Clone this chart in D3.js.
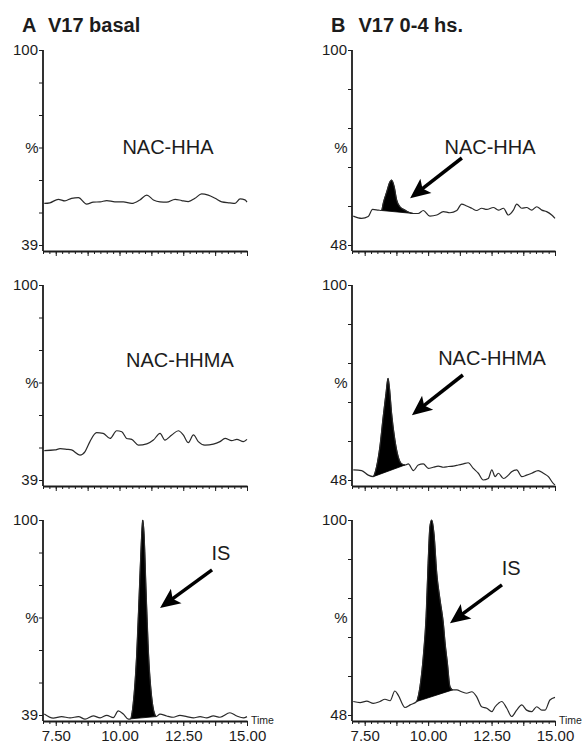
<!DOCTYPE html>
<html>
<head>
<meta charset="utf-8">
<title>V17 chromatograms</title>
<script src="https://d3js.org/d3.v7.min.js"></script>
<style>
  body { margin: 0; background: #fff; }
  svg { display: block; font-family: "Liberation Sans", Arial, sans-serif; }
</style>
</head>
<body>
<div id="chart"></div>
<script>
// retention time axis (min)
const timeDomain = [7.0, 15.0];
const timeLabels = [7.5, 10, 12.5, 15];

// columns: A = basal, B = 0-4 hs.
const columnLetters = ["A", "B"];
const columnTitles = ["V17 basal", "V17 0-4 hs."];
const yMins = [39, 48];
const yTickSteps = [6, 5];
const rowLabels = ["NAC-HHA", "NAC-HHMA", "IS"];

// A, NAC-HHA
const aHhaT = [7.05, 7.27, 7.60, 7.86, 8.12, 8.39, 8.71, 8.97, 9.24, 9.50, 9.82, 10.15, 10.48, 10.80, 11.07, 11.33, 11.59, 11.85, 12.18, 12.44, 12.70, 12.96, 13.22, 13.48, 13.75, 14.01, 14.33, 14.53, 14.73, 14.92, 15.0];
const aHhaV = [52.0, 52.2, 53.3, 52.8, 53.6, 53.8, 51.8, 52.4, 52.5, 52.9, 52.5, 52.5, 52.0, 53.1, 54.6, 53.1, 52.5, 52.4, 53.3, 52.9, 52.6, 53.6, 55.0, 54.6, 53.6, 52.5, 52.2, 52.0, 53.4, 53.1, 52.4];

// A, NAC-HHMA
const aHhmaT = [7.05, 7.47, 7.67, 7.93, 8.12, 8.45, 8.65, 8.84, 9.10, 9.36, 9.63, 9.89, 10.09, 10.28, 10.48, 10.74, 11.07, 11.33, 11.59, 11.78, 12.05, 12.31, 12.50, 12.70, 12.90, 13.09, 13.35, 13.68, 13.94, 14.14, 14.40, 14.60, 14.86, 15.0];
const aHhmaV = [48.2, 48.4, 48.8, 48.6, 48.4, 46.8, 47.9, 51.0, 53.8, 53.6, 52.0, 54.4, 54.1, 52.0, 51.7, 49.9, 50.3, 51.5, 53.6, 51.5, 53.1, 54.4, 53.1, 50.7, 53.1, 51.0, 49.9, 50.2, 51.0, 52.0, 51.3, 51.7, 51.0, 51.7];

// A, IS
const aIsT = [7.05, 7.40, 7.73, 8.06, 8.39, 8.65, 8.97, 9.24, 9.50, 9.76, 9.95, 10.15, 10.35, 10.44, 10.54, 10.67, 10.78, 10.86, 10.91, 10.96, 11.04, 11.13, 11.26, 11.43, 11.59, 11.85, 12.11, 12.37, 12.64, 12.90, 13.16, 13.42, 13.68, 13.94, 14.33, 14.60, 14.86, 15.0];
const aIsV = [39.3, 38.0, 38.5, 38.1, 38.5, 37.7, 38.7, 38.1, 38.9, 38.2, 40.3, 39.3, 37.7, 37.8, 42.7, 57.2, 78.1, 93.7, 100, 95.9, 78.1, 59.3, 44.7, 38.5, 39.3, 38.7, 38.3, 38.9, 38.5, 38.1, 38.5, 38.1, 38.7, 38.3, 39.7, 38.7, 38.1, 38.5];

// B, NAC-HHA
const bHhaT = [7.05, 7.38, 7.64, 7.81, 8.04, 8.17, 8.23, 8.37, 8.50, 8.56, 8.66, 8.76, 8.89, 9.09, 9.29, 9.42, 9.61, 9.81, 10.07, 10.34, 10.60, 10.86, 11.13, 11.32, 11.52, 11.72, 11.91, 12.11, 12.31, 12.57, 12.77, 12.97, 13.16, 13.36, 13.49, 13.69, 13.88, 14.08, 14.28, 14.48, 14.67, 14.87, 15.0];
const bHhaV = [55.7, 55.1, 55.6, 57.5, 57.3, 57.2, 59.1, 62.2, 64.9, 65.3, 63.6, 60.0, 58.2, 57.3, 56.6, 56.4, 56.4, 57.2, 55.7, 56.0, 56.9, 56.6, 57.2, 58.9, 58.4, 57.8, 57.2, 57.8, 57.5, 58.0, 57.3, 57.8, 56.0, 57.3, 58.9, 57.8, 58.0, 57.3, 58.2, 57.3, 56.9, 56.0, 55.1];

// B, NAC-HHMA
const bHhmaT = [7.05, 7.38, 7.64, 7.84, 7.97, 8.10, 8.23, 8.34, 8.42, 8.47, 8.56, 8.69, 8.82, 8.96, 9.09, 9.22, 9.42, 9.61, 9.81, 10.01, 10.20, 10.40, 10.60, 10.80, 10.99, 11.19, 11.39, 11.58, 11.78, 11.98, 12.17, 12.37, 12.51, 12.64, 12.77, 12.97, 13.16, 13.29, 13.49, 13.69, 13.88, 14.08, 14.34, 14.54, 14.74, 14.93, 15.0];
const bHhmaV = [50.7, 50.5, 49.3, 48.9, 51.6, 56.9, 64.9, 71.1, 75.1, 72.9, 65.8, 58.7, 54.2, 52.3, 52.0, 52.3, 50.5, 52.0, 52.3, 51.1, 51.4, 51.7, 51.4, 51.6, 51.7, 52.0, 52.3, 52.6, 51.1, 49.8, 48.0, 48.4, 50.7, 48.9, 49.8, 48.4, 49.3, 50.2, 50.7, 48.9, 49.3, 49.8, 50.5, 49.8, 48.9, 47.1, 46.7];

// B, IS
const bIsT = [7.05, 7.32, 7.58, 7.84, 8.10, 8.30, 8.50, 8.69, 8.82, 9.09, 9.29, 9.55, 9.68, 9.81, 9.92, 10.01, 10.07, 10.14, 10.23, 10.34, 10.47, 10.60, 10.67, 10.76, 10.86, 10.97, 11.13, 11.32, 11.52, 11.72, 11.91, 12.11, 12.31, 12.51, 12.64, 12.77, 12.90, 13.10, 13.29, 13.49, 13.69, 13.88, 14.08, 14.28, 14.48, 14.61, 14.80, 15.0];
const bIsV = [51.6, 51.3, 51.7, 51.1, 51.6, 52.2, 51.8, 54.4, 53.3, 50.0, 50.7, 51.6, 55.6, 63.6, 74.2, 90.2, 98.2, 100, 96.4, 85.8, 78.7, 72.4, 67.1, 61.8, 55.6, 54.7, 54.7, 54.2, 53.8, 54.2, 52.9, 50.2, 49.8, 48.9, 50.2, 51.1, 51.6, 49.8, 47.6, 49.3, 50.7, 49.3, 48.9, 50.2, 49.3, 49.3, 52.0, 52.7];

// integrated (filled) peaks: [start, end] time, null = none
const peakLimits = [
  [null, null, [10.44, 11.43]],
  [[8.17, 9.42], [7.84, 9.09], [9.55, 10.97]]
];
// label centres [time, %]
const labelPos = [
  [[11.90, 69.7], [12.37, 76.5], [13.98, 89.7]],
  [[12.44, 74.1], [12.52, 80.5], [13.27, 87.2]]
];
// arrows [tailTime, tail%, tipTime, tip%]
const arrows = [
  [null, null, [13.63, 84.4, 11.59, 72.5]],
  [[11.33, 71.2, 9.29, 60.5], [11.37, 76.0, 9.36, 65.3], [12.91, 82.7, 10.86, 72.5]]
];

const traces = [
  [[aHhaT, aHhaV], [aHhmaT, aHhmaV], [aIsT, aIsV]],
  [[bHhaT, bHhaV], [bHhmaT, bHhmaV], [bIsT, bIsV]]
];

// layout
const W = 588, H = 744;
const colX = [[43, 247], [352, 555]];
const rowY = [[245, 50], [480, 285], [715, 520]];
const axisGap = 6;
const ink = "#1c1c1c";

const svg = d3.select("#chart").append("svg")
  .attr("width", W).attr("height", H);

columnLetters.forEach((letter, c) => {
  const t = svg.append("text")
    .attr("x", colX[c][0] - 21).attr("y", 32)
    .attr("font-size", 20).attr("font-weight", "bold").attr("fill", ink);
  t.append("tspan").text(letter);
  t.append("tspan").attr("dx", 13).text(columnTitles[c]);
});

traces.forEach((col, c) => {
  col.forEach((tr, r) => {
    const x = d3.scaleLinear().domain(timeDomain).range(colX[c]);
    const y = d3.scaleLinear().domain([yMins[c], 100]).range(rowY[r]);
    const axisY = rowY[r][0] + axisGap;
    const g = svg.append("g");
    const pts = tr[0].map((t, i) => ({ t, v: tr[1][i] }));

    const line = d3.line().x(d => x(d.t)).y(d => y(d.v)).curve(d3.curveMonotoneX);

    // filled peak
    const lim = peakLimits[c][r];
    if (lim) {
      const sub = pts.filter(d => d.t >= lim[0] - 1e-6 && d.t <= lim[1] + 1e-6);
      g.append("path").attr("d", line(sub) + "Z")
        .attr("fill", "#000").attr("stroke", "#000").attr("stroke-width", 0.8);
    }

    g.append("path").datum(pts).attr("d", line)
      .attr("fill", "none").attr("stroke", "#2a2a2a").attr("stroke-width", 1.2);

    // y axis
    const n = yTickSteps[c];
    const yTicks = d3.range(n + 1).map(i => yMins[c] + i * (100 - yMins[c]) / n);
    const ya = g.append("g").attr("transform", `translate(${colX[c][0]},0)`)
      .call(d3.axisLeft(y).tickValues(yTicks).tickSize(4).tickPadding(1)
        .tickFormat((d, i) => i === 0 ? String(yMins[c]) : (i === n ? "100" : "")));
    ya.select(".domain").remove();
    ya.selectAll("line").attr("stroke", ink);
    ya.selectAll("text").attr("font-size", 15).attr("fill", ink).attr("font-family", null);
    g.append("line")
      .attr("x1", colX[c][0]).attr("x2", colX[c][0])
      .attr("y1", y(100)).attr("y2", axisY)
      .attr("stroke", ink).attr("stroke-width", 1.8);
    g.append("text")
      .attr("x", colX[c][0] - 11).attr("y", (rowY[r][0] + rowY[r][1]) / 2)
      .attr("text-anchor", "middle").attr("dominant-baseline", "central")
      .attr("font-size", 15).attr("fill", ink).text("%");

    // x axis: minor and major ticks
    const minor = d3.range(timeDomain[0], timeDomain[1] + 0.001, 0.25);
    const major = d3.range(7.5, timeDomain[1] + 0.001, 1.25);
    const xa = g.append("g").attr("transform", `translate(0,${axisY})`)
      .call(d3.axisBottom(x).tickValues(minor).tickSize(3).tickSizeOuter(0).tickFormat(""));
    xa.select(".domain").attr("stroke", ink).attr("stroke-width", 1.8);
    xa.selectAll("line").attr("stroke", ink);
    const xm = g.append("g").attr("transform", `translate(0,${axisY})`)
      .call(d3.axisBottom(x).tickValues(major).tickSize(5).tickSizeOuter(0).tickFormat(""));
    xm.select(".domain").remove();
    xm.selectAll("line").attr("stroke", ink);

    if (r === rowY.length - 1) {
      const xl = g.append("g").attr("transform", `translate(0,${axisY})`)
        .call(d3.axisBottom(x).tickValues(timeLabels).tickSize(0).tickPadding(9)
          .tickFormat(d3.format(".2f")));
      xl.select(".domain").remove();
      xl.selectAll("text").attr("font-size", 15).attr("fill", ink).attr("font-family", null);
      g.append("text")
        .attr("x", colX[c][1] + 4).attr("y", axisY + 3)
        .attr("font-size", 10.5).attr("fill", ink).text("Time");
    }

    // compound label
    const lp = labelPos[c][r];
    g.append("text")
      .attr("x", x(lp[0])).attr("y", y(lp[1]))
      .attr("text-anchor", "middle").attr("dominant-baseline", "central")
      .attr("font-size", 20).attr("fill", ink).text(rowLabels[r]);

    // arrow
    const a = arrows[c][r];
    if (a) {
      const x1 = x(a[0]), y1 = y(a[1]), x2 = x(a[2]), y2 = y(a[3]);
      const len = Math.hypot(x2 - x1, y2 - y1);
      const ux = (x2 - x1) / len, uy = (y2 - y1) / len;
      const px = -uy, py = ux;
      const hl = 20, hw = 9;
      g.append("line")
        .attr("x1", x1).attr("y1", y1)
        .attr("x2", x2 - ux * hl * 0.7).attr("y2", y2 - uy * hl * 0.7)
        .attr("stroke", "#000").attr("stroke-width", 3.5);
      const head = [
        [x2, y2],
        [x2 - ux * hl + px * hw, y2 - uy * hl + py * hw],
        [x2 - ux * hl * 0.78, y2 - uy * hl * 0.78],
        [x2 - ux * hl - px * hw, y2 - uy * hl - py * hw]
      ];
      g.append("path").attr("d", "M" + head.join("L") + "Z").attr("fill", "#000");
    }
  });
});
</script>
</body>
</html>
